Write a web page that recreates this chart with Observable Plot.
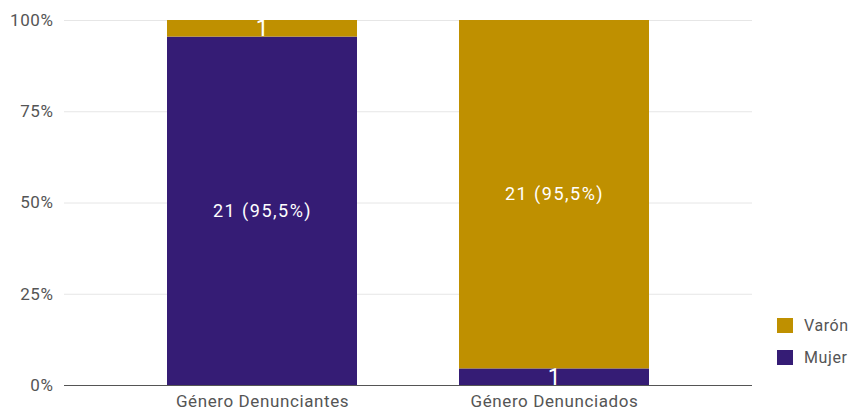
<!DOCTYPE html>
<html>
<head>
<meta charset="utf-8">
<script src="https://cdn.jsdelivr.net/npm/d3@7"></script>
<script src="https://cdn.jsdelivr.net/npm/@observablehq/plot@0.6"></script>
<style>
  html, body { margin: 0; padding: 0; background: #fff; }
  #wrap { position: relative; width: 854px; height: 412px; font-family: Roboto, sans-serif; }
  .legend { position: absolute; left: 777px; font-size: 16px; letter-spacing: 0.6px; color: #555; }
  .legend div { display: flex; align-items: center; height: 32px; }
  .legend span.sw { width: 16px; height: 15px; margin-right: 11px; display: inline-block; }
  svg text { letter-spacing: 0.6px; }
  svg g.barlabels text { letter-spacing: 1.5px; }
</style>
</head>
<body>
<div id="wrap"></div>
<script>
const categories = ["Género Denunciantes", "Género Denunciados"];
const series = ["Mujer", "Varón"];
const mujer = [21, 1];
const varon = [1, 21];
const mujerLabels = ["21 (95,5%)", "1"];
const varonLabels = ["1", "21 (95,5%)"];
const yTicks = [0, 0.25, 0.5, 0.75, 1];
const colors = ["#351c75", "#bf9000"];

const data = [];
categories.forEach((c, i) => data.push({cat: c, series: "Mujer", value: mujer[i], label: mujerLabels[i]}));
categories.forEach((c, i) => data.push({cat: c, series: "Varón", value: varon[i], label: varonLabels[i]}));

const stackOpts = {x: "cat", y: "value", z: "series", offset: "normalize"};

const chart = Plot.plot({
  width: 854,
  height: 412,
  marginLeft: 64,
  marginRight: 102,
  marginTop: 20,
  marginBottom: 27,
  style: {fontFamily: "Roboto, sans-serif", fontSize: "17px", color: "#555", background: "#fff"},
  x: {domain: categories, range: [166.5, 650.5], paddingInner: 0.348, paddingOuter: 0, label: null, tickSize: 0, tickPadding: 9},
  y: {domain: [0, 1], ticks: yTicks, tickFormat: d => Math.round(d * 100) + "%", label: null, tickSize: 0, tickPadding: 11},
  color: {domain: series, range: colors},
  marks: [
    Plot.ruleY(yTicks.filter(d => d > 0), {stroke: "#e6e6e6", strokeWidth: 1}),
    Plot.barY(data, Plot.stackY({...stackOpts, fill: "series"})),
    Plot.text(data, Plot.stackY({...stackOpts, text: d => d.value > 1 ? d.label : "", fill: "white", fontSize: 18, className: "barlabels"})),
    Plot.ruleY([0], {stroke: "#555", strokeWidth: 1.2}),
    Plot.text(data, Plot.stackY({...stackOpts, text: d => d.value === 1 ? d.label : "", fill: "white", fontSize: 23}))
  ]
});
document.getElementById("wrap").appendChild(chart);

const legend = document.createElement("div");
legend.className = "legend";
legend.style.top = "309px";
[["Varón", colors[1]], ["Mujer", colors[0]]].forEach(([name, col]) => {
  const row = document.createElement("div");
  const sw = document.createElement("span");
  sw.className = "sw";
  sw.style.background = col;
  row.appendChild(sw);
  row.appendChild(document.createTextNode(name));
  legend.appendChild(row);
});
document.getElementById("wrap").appendChild(legend);
</script>
</body>
</html>
